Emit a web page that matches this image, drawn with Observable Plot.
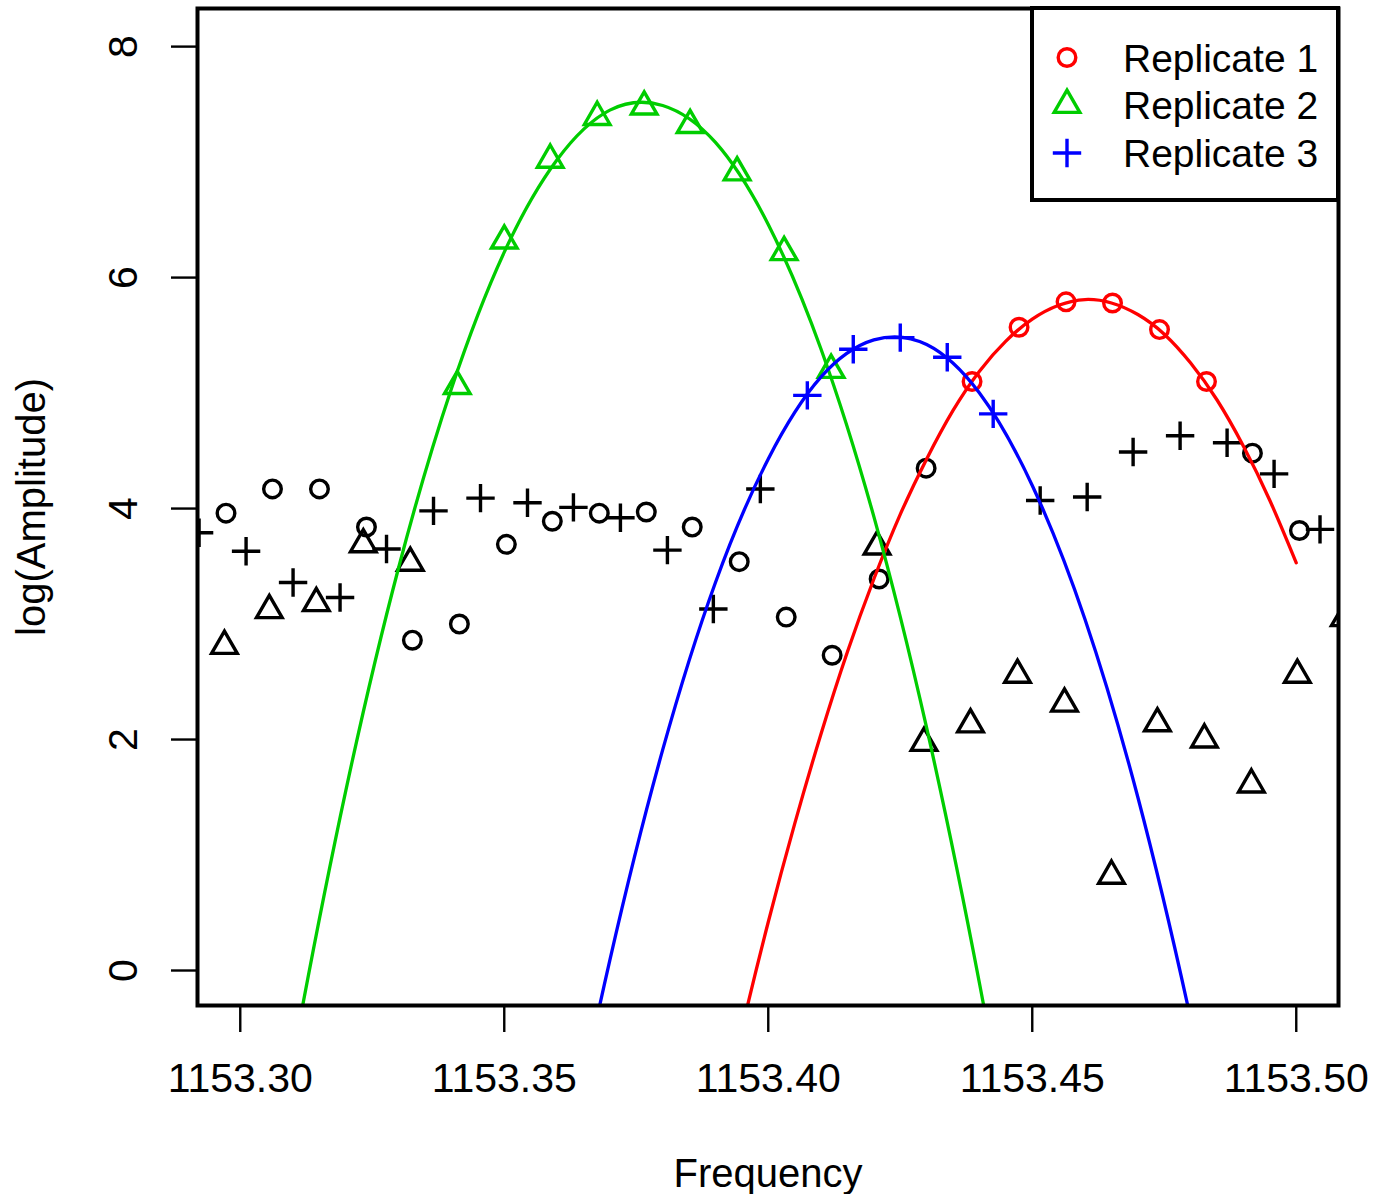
<!DOCTYPE html>
<html><head><meta charset="utf-8">
<script src="https://cdn.jsdelivr.net/npm/d3@7"></script>
<script src="https://cdn.jsdelivr.net/npm/@observablehq/plot@0.6"></script>
<style>
html,body{margin:0;padding:0;background:#fff;overflow:hidden;}
#wrap{position:relative;width:1376px;height:1194px;}
#wrap svg{display:block;}
#legend{position:absolute;left:0;top:0;pointer-events:none;}
</style></head><body><div id="wrap"></div>
<script>
// ---------- data ----------
const xTicks = [1153.30, 1153.35, 1153.40, 1153.45, 1153.50];
const yTicks = [0, 2, 4, 6, 8];
const xLabel = "Frequency";
const yLabel = "log(Amplitude)";
const seriesNames = ["Replicate 1", "Replicate 2", "Replicate 3"];
const seriesColors = ["#ff0000", "#00cd00", "#0000ff"];

// Replicate 1 (circles)
const rep1Freq = [1153.2973,1153.3061,1153.3150,1153.3239,1153.3326,1153.3415,1153.3504,1153.3591,1153.3680,1153.3769,1153.3856,1153.3945,1153.4034,1153.4121,1153.4210,1153.4299,1153.4386,1153.4475,1153.4564,1153.4652,1153.4741,1153.4830,1153.4917,1153.5006];
const rep1Amp  = [3.96,4.17,4.17,3.84,2.86,3.00,3.69,3.89,3.96,3.97,3.84,3.54,3.06,2.73,3.39,4.35,5.10,5.57,5.79,5.78,5.55,5.10,4.48,3.81];
const rep1Fit  = [16, 21];

// Replicate 2 (triangles)
const rep2Freq = [1153.2970,1153.3055,1153.3144,1153.3233,1153.3322,1153.3411,1153.3500,1153.3587,1153.3676,1153.3765,1153.3852,1153.3941,1153.4030,1153.4119,1153.4206,1153.4295,1153.4383,1153.4472,1153.4561,1153.4650,1153.4737,1153.4826,1153.4915,1153.5002,1153.5091];
const rep2Amp  = [2.81,3.12,3.18,3.69,3.53,5.06,6.32,7.02,7.39,7.48,7.32,6.91,6.22,5.20,3.67,1.97,2.13,2.56,2.31,0.82,2.14,2.00,1.61,2.56,3.05];
const rep2Fit  = [5, 13];

// Replicate 3 (plus signs)
const rep3Freq = [1153.2922,1153.3011,1153.3100,1153.3189,1153.3277,1153.3366,1153.3455,1153.3544,1153.3631,1153.3720,1153.3809,1153.3896,1153.3985,1153.4074,1153.4161,1153.4250,1153.4339,1153.4426,1153.4515,1153.4604,1153.4691,1153.4780,1153.4869,1153.4958,1153.5045];
const rep3Amp  = [3.79,3.63,3.36,3.23,3.65,3.98,4.09,4.05,4.01,3.92,3.64,3.13,4.17,4.98,5.38,5.48,5.31,4.82,4.07,4.10,4.49,4.63,4.57,4.30,3.82];
const rep3Fit  = [13, 17];

// fitted curves
const fit1Freq = [1153.390,1153.395,1153.400,1153.405,1153.410,1153.415,1153.420,1153.425,1153.430,1153.435,1153.440,1153.445,1153.450,1153.455,1153.460,1153.465,1153.470,1153.475,1153.480,1153.485,1153.490,1153.495,1153.500];
const fit1Amp  = [-1.51,-0.51,0.42,1.27,2.05,2.76,3.39,3.95,4.43,4.85,5.19,5.45,5.64,5.76,5.81,5.78,5.68,5.51,5.26,4.94,4.54,4.07,3.53];
const fit2Freq = [1153.29,1153.30,1153.31,1153.32,1153.33,1153.34,1153.35,1153.36,1153.37,1153.38,1153.39,1153.40,1153.41,1153.42,1153.43,1153.44,1153.45,1153.46];
const fit2Amp  = [-6.49,-3.43,-0.75,1.56,3.49,5.04,6.22,7.02,7.45,7.49,7.17,6.46,5.38,3.93,2.10,-0.11,-2.70,-5.66];
const fit3Freq = [1153.35,1153.36,1153.37,1153.38,1153.39,1153.40,1153.41,1153.42,1153.43,1153.44,1153.45,1153.46,1153.47,1153.48,1153.49,1153.50];
const fit3Amp  = [-4.68,-2.11,0.09,1.91,3.36,4.43,5.14,5.46,5.42,5.00,4.20,3.04,1.50,-0.42,-2.71,-5.37];

const xDomain = [1153.2919, 1153.5080];
const yDomain = [-0.303, 8.33];

// ---------- R-like symbols ----------
const pchCircle = {draw(ctx, size) { const r = Math.sqrt(size / Math.PI); ctx.moveTo(r, 0); ctx.arc(0, 0, r, 0, 2 * Math.PI); }};
const pchTriangle = {draw(ctx, size) { const r = Math.sqrt(size / Math.PI); const h = r * Math.sqrt(3) / 2; ctx.moveTo(0, -r); ctx.lineTo(h, r / 2); ctx.lineTo(-h, r / 2); ctx.closePath(); }};
const pchPlus = {draw(ctx, size) { const r = Math.sqrt(size / Math.PI); ctx.moveTo(-r, 0); ctx.lineTo(r, 0); ctx.moveTo(0, -r); ctx.lineTo(0, r); }};

const symbols = [pchCircle, pchTriangle, pchPlus];
const radii = [8.8, 14.8, 14.2];
const markStroke = 3.4;

const reps = [
  {freq: rep1Freq, amp: rep1Amp, fit: rep1Fit, cf: fit1Freq, ca: fit1Amp},
  {freq: rep2Freq, amp: rep2Amp, fit: rep2Fit, cf: fit2Freq, ca: fit2Amp},
  {freq: rep3Freq, amp: rep3Amp, fit: rep3Fit, cf: fit3Freq, ca: fit3Amp}
];

const font = "'Liberation Sans', Arial, Helvetica, sans-serif";
const marks = [];
reps.forEach((rep, k) => {
  const pts = rep.freq.map((f, i) => ({f, a: rep.amp[i], fitted: i >= rep.fit[0] && i <= rep.fit[1]}));
  const base = {x: "f", y: "a", symbol: symbols[k], r: radii[k], fill: "none", strokeWidth: markStroke, clip: true};
  marks.push(Plot.dot(pts.filter(d => !d.fitted), {...base, stroke: "black"}));
  marks.push(Plot.dot(pts.filter(d => d.fitted), {...base, stroke: seriesColors[k]}));
});
reps.forEach((rep, k) => {
  const curve = rep.cf.map((f, i) => ({f, a: rep.ca[i]}));
  marks.push(Plot.line(curve, {x: "f", y: "a", stroke: seriesColors[k], strokeWidth: 3.3, curve: "natural", clip: true}));
});

marks.push(Plot.frame({stroke: "black", strokeWidth: 4}));
marks.push(Plot.axisX({ticks: xTicks, tickSize: 27, tickFormat: () => "", strokeWidth: 2.4, label: null}));
marks.push(Plot.axisY({ticks: yTicks, tickSize: 26, tickFormat: () => "", strokeWidth: 2.4, label: null}));
marks.push(Plot.text(xTicks, {x: d => d, frameAnchor: "bottom", dy: 73, text: d => d.toFixed(2), fontSize: 41, fontFamily: font, lineAnchor: "middle", textAnchor: "middle"}));
marks.push(Plot.text(yTicks, {y: d => d, frameAnchor: "left", dx: -74, rotate: -90, text: d => String(d), fontSize: 41, fontFamily: font, lineAnchor: "middle", textAnchor: "middle"}));
marks.push(Plot.text([xLabel], {frameAnchor: "bottom", dy: 169, text: d => d, fontSize: 40, fontFamily: font, lineAnchor: "middle", textAnchor: "middle"}));
marks.push(Plot.text([yLabel], {frameAnchor: "left", dx: -165, rotate: -90, text: d => d, fontSize: 40, fontFamily: font, lineAnchor: "middle", textAnchor: "middle"}));

const chart = Plot.plot({
  width: 1376, height: 1194,
  marginLeft: 197, marginRight: 38, marginTop: 8, marginBottom: 189,
  x: {domain: xDomain, axis: null},
  y: {domain: yDomain, axis: null},
  style: {fontFamily: font, background: "white", color: "black"},
  marks
});
document.getElementById("wrap").appendChild(chart);

// ---------- legend (boxed, top-right inside the frame) ----------
const lg = d3.select("#wrap").append("svg").attr("id", "legend").attr("width", 1376).attr("height", 1194);
lg.append("rect").attr("x", 1032).attr("y", 8).attr("width", 306).attr("height", 192)
  .attr("fill", "white").attr("stroke", "black").attr("stroke-width", 4);
const rowY = [57.5, 105, 153];
seriesNames.forEach((name, k) => {
  const sym = d3.symbol(symbols[k], Math.PI * radii[k] * radii[k]);
  lg.append("path").attr("d", sym()).attr("transform", `translate(1067,${rowY[k]})`)
    .attr("fill", "none").attr("stroke", seriesColors[k]).attr("stroke-width", markStroke);
  lg.append("text").attr("x", 1123).attr("y", rowY[k] + 14).attr("font-family", font)
    .attr("font-size", 39).attr("fill", "black").text(name);
});
</script></body></html>
